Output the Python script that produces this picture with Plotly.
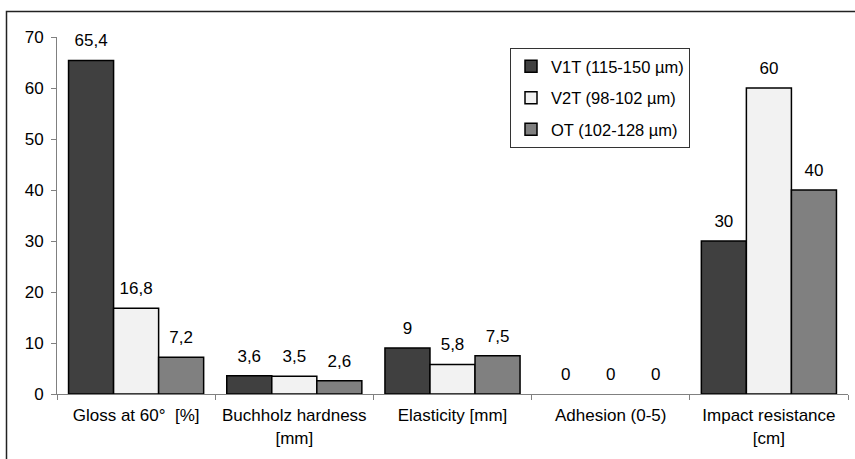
import plotly.graph_objects as go

categories = ["Gloss at 60°  [%]", "Buchholz hardness<br>[mm]", "Elasticity [mm]",
              "Adhesion (0-5)", "Impact resistance<br>[cm]"]
series_names = ["V1T (115-150 µm)", "V2T (98-102 µm)", "OT (102-128 µm)"]
v1t = [65.4, 3.6, 9, 0, 30]
v2t = [16.8, 3.5, 5.8, 0, 60]
ot = [7.2, 2.6, 7.5, 0, 40]
colors = ["#404040", "#f2f2f2", "#808080"]
y_ticks = [0, 10, 20, 30, 40, 50, 60, 70]

FONT = "Liberation Sans, Arial, sans-serif"
GAP = 0.146

def fmt(v):
    return f"{v:g}".replace(".", ",")

fig = go.Figure()
series = [v1t, v2t, ot]
for i, (name, vals) in enumerate(zip(series_names, series)):
    fig.add_trace(go.Bar(
        x=categories, y=vals, name=name, legendgroup=f"g{i}",
        offsetgroup=f"o{i}",
        marker=dict(color=colors[i],
                    line=dict(color="#000000", width=[1.5 if v != 0 else 0 for v in vals])),
        hoverinfo="x+y",
    ))
for i, (name, vals) in enumerate(zip(series_names, series)):
    fig.add_trace(go.Scatter(
        x=categories, y=vals, name=name, showlegend=False, legendgroup=f"g{i}",
        offsetgroup=f"o{i}",
        mode="markers+text", text=[fmt(v) for v in vals], textposition="top center",
        marker=dict(size=14, color="rgba(0,0,0,0)"),
        textfont=dict(family=FONT, size=17, color="#000000"),
        cliponaxis=False, hoverinfo="skip",
    ))

W, H = 855, 459
ml, mr, mt, mb = 57, 7, 37, 65
pw, ph = W - ml - mr, H - mt - mb

def px(x):
    return (x - ml) / pw

def py(y):
    return (H - mb - y) / ph

fig.update_layout(
    width=W, height=H,
    margin=dict(l=ml, r=mr, t=mt, b=mb, autoexpand=False),
    paper_bgcolor="white", plot_bgcolor="white",
    barmode="group", bargap=GAP, bargroupgap=0,
    scattermode="group", scattergap=GAP,
    font=dict(family=FONT, size=17, color="#000000"),
    showlegend=True,
    legend=dict(x=px(510), y=py(48), xanchor="left", yanchor="top",
                bgcolor="white", bordercolor="#333333", borderwidth=1,
                font=dict(family=FONT, size=16.5, color="#000000"),
                tracegroupgap=7, itemwidth=30, traceorder="grouped"),
    xaxis=dict(showline=True, linecolor="#808080", linewidth=1,
               ticks="outside", tickson="boundaries", ticklen=5, tickcolor="#808080",
               showgrid=False, tickfont=dict(family=FONT, size=17),
               ticklabelstandoff=6),
    yaxis=dict(range=[0, 70], tickvals=y_ticks, showline=True, linecolor="#808080",
               linewidth=1, ticks="outside", ticklen=5, tickcolor="#808080",
               showgrid=False, zeroline=False, tickfont=dict(family=FONT, size=17),
               ticklabelstandoff=4),
    shapes=[dict(type="rect", xref="paper", yref="paper",
                 x0=px(6.5), x1=px(W + 20), y0=py(H + 20), y1=py(11.5),
                 line=dict(color="#222222", width=1.5), fillcolor="rgba(0,0,0,0)",
                 layer="below")],
)

fig.write_html("out.html")
